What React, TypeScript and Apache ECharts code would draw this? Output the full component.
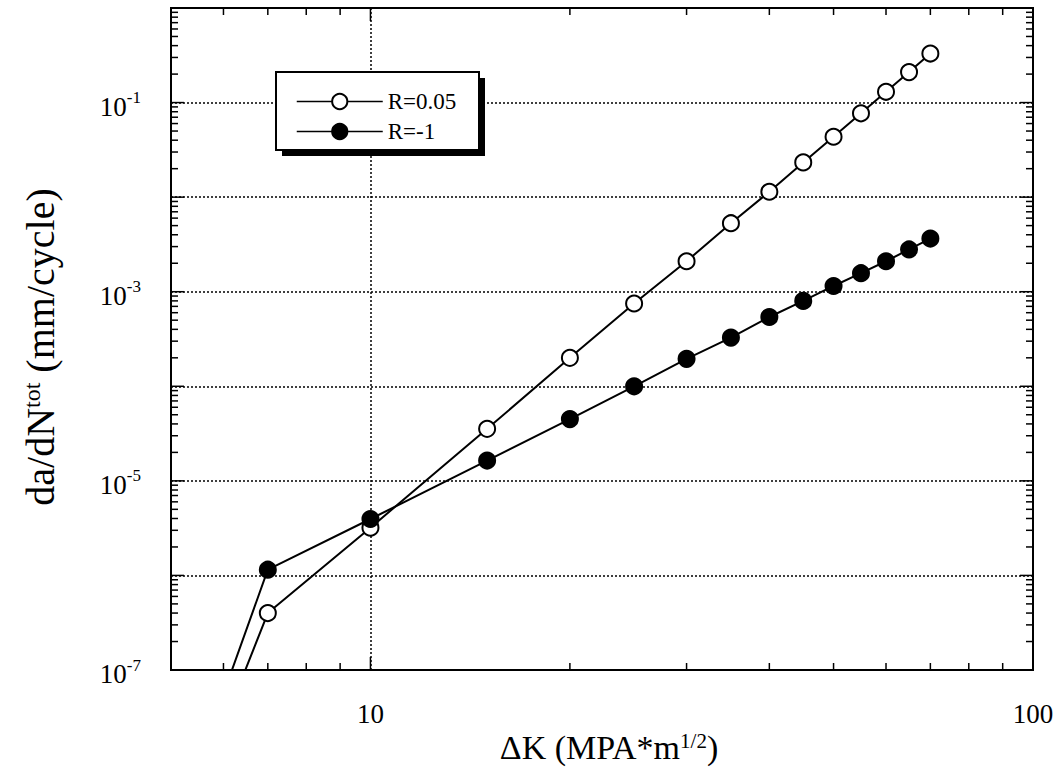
import React, { useEffect, useRef } from "react";
import * as echarts from "echarts";

// ΔK values (MPa·m^1/2)
const deltaK = [6, 7, 10, 15, 20, 25, 30, 35, 40, 45, 50, 55, 60, 65, 70];
// da/dN^tot (mm/cycle)
const rateR005 = [2.6e-8, 4.0e-7, 3.2e-6, 3.55e-5, 2.0e-4, 7.5e-4, 2.1e-3, 5.3e-3, 1.14e-2, 2.33e-2, 4.35e-2, 7.7e-2, 0.13, 0.21, 0.33];
const rateRm1 = [5.6e-8, 1.15e-6, 3.95e-6, 1.64e-5, 4.5e-5, 1.0e-4, 1.95e-4, 3.27e-4, 5.4e-4, 8.0e-4, 1.15e-3, 1.57e-3, 2.1e-3, 2.8e-3, 3.65e-3];
const seriesNames = ["R=0.05", "R=-1"];

// axis ranges & tick positions
const X_MIN = 5;
const X_MAX = 100;
const Y_MIN = 1e-7;
const Y_MAX = 1;
const xMajorTicks = [10];
const xMinorTicks = [6, 7, 8, 9, 20, 30, 40, 50, 60, 70, 80, 90];
const yDecadeExponents = [-7, -6, -5, -4, -3, -2, -1];
const yMinorMultipliers = [2, 3, 4, 5, 6, 7, 8, 9];
const yLabelExponents = [-1, -3, -5, -7];

const FONT = "Liberation Serif";

export default function App() {
  const ref = useRef<HTMLDivElement>(null);

  useEffect(() => {
    if (!ref.current) return;
    const chart = echarts.init(ref.current, null, { renderer: "svg" });

    const tickData: number[][] = [];
    xMajorTicks.forEach((v) => tickData.push([v, Y_MIN, 0, 1]));
    xMinorTicks.forEach((v) => tickData.push([v, Y_MIN, 0, 0]));
    yDecadeExponents.forEach((e) => {
      const d = Math.pow(10, e);
      if (e > -7) tickData.push([X_MIN, d, 1, 1]);
      yMinorMultipliers.forEach((m) => tickData.push([X_MIN, m * d, 1, 0]));
    });

    const mk = (vals: number[]) => deltaK.map((k, i) => [k, vals[i]]);

    const option: any = {
      animation: false,
      backgroundColor: "#fff",
      grid: {
        left: 171,
        right: 27,
        top: 8,
        bottom: 99,
        show: true,
        borderColor: "#000",
        borderWidth: 2,
        backgroundColor: "transparent",
      },
      xAxis: {
        type: "log",
        logBase: 10,
        min: X_MIN,
        max: X_MAX,
        splitNumber: 1,
        axisLine: { show: false },
        axisTick: { show: false },
        splitLine: { show: true, lineStyle: { color: "#000", width: 1.5, type: [2, 2] } },
        axisLabel: {
          margin: 30,
          color: "#000",
          fontFamily: FONT,
          fontSize: 27,
          formatter: (v: number) => {
            const e = Math.log10(v);
            return Math.abs(e - Math.round(e)) < 1e-6 ? String(Math.round(v)) : "";
          },
        },
      },
      yAxis: {
        type: "log",
        logBase: 10,
        min: Y_MIN,
        max: Y_MAX,
        splitNumber: 7,
        axisLine: { show: false },
        axisTick: { show: false },
        splitLine: { show: true, lineStyle: { color: "#000", width: 1.5, type: [2, 2] } },
        axisLabel: {
          margin: 30,
          color: "#000",
          formatter: (v: number) => {
            const e = Math.round(Math.log10(v));
            return yLabelExponents.indexOf(e) >= 0 ? `{b|10}{s|${e}}` : "";
          },
          rich: {
            b: { fontFamily: FONT, fontSize: 27, lineHeight: 27, color: "#000", padding: [8, 0, 0, 0] },
            s: { fontFamily: FONT, fontSize: 17, lineHeight: 17, color: "#000", verticalAlign: "top" },
          },
        },
      },
      legend: {
        data: seriesNames,
        orient: "vertical",
        left: 291,
        top: 85,
        itemWidth: 86,
        itemHeight: 19,
        itemGap: 7,
        z: 20,
        lineStyle: { width: 1.5 },
        textStyle: { fontFamily: FONT, fontSize: 23, color: "#000" },
      },
      graphic: [
        {
          type: "rect",
          z: 10,
          shape: { x: 282, y: 78, width: 203, height: 78 },
          style: { fill: "#000" },
        },
        {
          type: "rect",
          z: 11,
          shape: { x: 276, y: 72, width: 203, height: 78 },
          style: { fill: "#fff", stroke: "#000", lineWidth: 2 },
        },
        {
          type: "text",
          z: 5,
          x: 40,
          y: 347,
          rotation: Math.PI / 2,
          style: {
            text: "{n|da/dN}{s|tot}{n| (mm/cycle)}",
            align: "center",
            verticalAlign: "middle",
            rich: {
              n: { fontFamily: FONT, fontSize: 40, lineHeight: 40, fill: "#000" },
              s: { fontFamily: FONT, fontSize: 24, lineHeight: 24, fill: "#000", verticalAlign: "top" },
            },
          },
        },
        {
          type: "text",
          z: 5,
          x: 609,
          y: 747,
          style: {
            text: "{n|ΔK (MPA*m}{s|1/2}{n|)}",
            align: "center",
            verticalAlign: "middle",
            rich: {
              n: { fontFamily: FONT, fontSize: 34, lineHeight: 34, fill: "#000" },
              s: { fontFamily: FONT, fontSize: 21, lineHeight: 21, fill: "#000", verticalAlign: "top" },
            },
          },
        },
      ],
      series: [
        {
          type: "custom",
          silent: true,
          clip: false,
          z: 3,
          data: tickData,
          encode: { x: 0, y: 1 },
          renderItem: (_params: any, api: any) => {
            const kind = api.value(2);
            const major = api.value(3);
            const len = major ? 13 : 7;
            const st = { stroke: "#000", lineWidth: 1.5 };
            if (kind === 0) {
              const xv = api.value(0);
              const b = api.coord([xv, Y_MIN]);
              const t = api.coord([xv, Y_MAX]);
              return {
                type: "group",
                children: [
                  { type: "line", shape: { x1: b[0], y1: b[1], x2: b[0], y2: b[1] - len }, style: st },
                  { type: "line", shape: { x1: t[0], y1: t[1], x2: t[0], y2: t[1] + len }, style: st },
                ],
              };
            }
            const yv = api.value(1);
            const l = api.coord([X_MIN, yv]);
            const r = api.coord([X_MAX, yv]);
            return {
              type: "group",
              children: [
                { type: "line", shape: { x1: l[0], y1: l[1], x2: l[0] + len, y2: l[1] }, style: st },
                { type: "line", shape: { x1: r[0], y1: r[1], x2: r[0] - len, y2: r[1] }, style: st },
              ],
            };
          },
        },
        {
          name: seriesNames[0],
          type: "line",
          data: mk(rateR005),
          symbol: "circle",
          symbolSize: 16,
          z: 4,
          lineStyle: { color: "#000", width: 2 },
          itemStyle: { color: "#fff", borderColor: "#000", borderWidth: 2 },
        },
        {
          name: seriesNames[1],
          type: "line",
          data: mk(rateRm1),
          symbol: "circle",
          symbolSize: 16,
          z: 4,
          lineStyle: { color: "#000", width: 2 },
          itemStyle: { color: "#000", borderColor: "#000", borderWidth: 2 },
        },
      ],
    };

    chart.setOption(option);
    return () => chart.dispose();
  }, []);

  return (
    <div
      ref={ref}
      style={{ position: "absolute", left: 0, top: 0, width: 1060, height: 769, background: "#fff" }}
    />
  );
}
